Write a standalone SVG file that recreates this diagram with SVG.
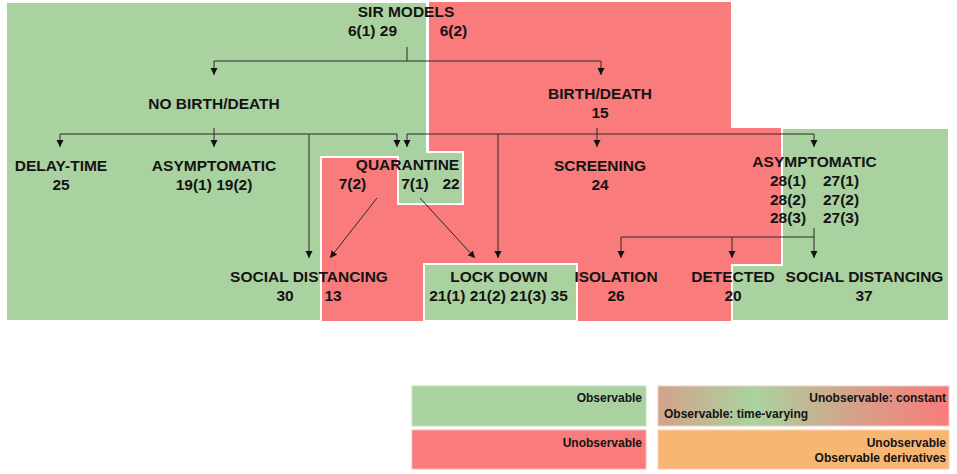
<svg xmlns="http://www.w3.org/2000/svg" width="957" height="474" viewBox="0 0 957 474">
<style>
.g{fill:#aad2a0;stroke:#fff;stroke-width:2}
.r{fill:#f97b7b}
.t{font-family:"Liberation Sans",Arial,sans-serif;font-weight:bold;font-size:15.5px;fill:#141414;text-anchor:middle}
.l{font-family:"Liberation Sans",Arial,sans-serif;font-weight:bold;font-size:12px;fill:#141414;text-anchor:end}
.c{fill:none;stroke:#2a2a2a;stroke-width:1}
.a{marker-end:url(#arr)}
</style>
<defs>
<marker id="arr" markerUnits="userSpaceOnUse" markerWidth="8" markerHeight="8" refX="7" refY="3.5" orient="auto">
<path d="M0,0 L7,3.5 L0,7 z" fill="#111"/>
</marker>
<linearGradient id="grad" x1="0" y1="0" x2="1" y2="0">
<stop offset="0" stop-color="#d3a28a"/>
<stop offset="0.33" stop-color="#a9d3a0"/>
<stop offset="0.68" stop-color="#d6a08a"/>
<stop offset="1" stop-color="#f97b7b"/>
</linearGradient>
</defs>
<g id="background">
<polygon class="r" points="429,2 731,2 731,128 782,128 782,321 321,321 321,157 429,157"/>
<polygon class="g" points="6,2 427,2 427,152 463,152 463,204 398,204 398,157 321,157 321,321 6,321"/>
<rect class="g" x="424" y="264" width="153" height="57"/>
<polygon class="g" points="782,128 949,128 949,321 732,321 732,265 782,265"/>
</g>
<g id="connectors">
<path class="c" d="M407,47 V61 M214,61 H601"/>
<path class="c a" d="M214,61 V75"/>
<path class="c a" d="M601,61 V75"/>
<path class="c" d="M214,128 V134 M60,134 H397"/>
<path class="c a" d="M60,134 V147"/>
<path class="c a" d="M214,134 V147"/>
<path class="c a" d="M397,134 V147"/>
<path class="c a" d="M309,134 V258"/>
<path class="c" d="M597,128 V134 M407,134 H814"/>
<path class="c a" d="M407,134 V147"/>
<path class="c a" d="M597,134 V147"/>
<path class="c a" d="M814,134 V147"/>
<path class="c a" d="M498,134 V258"/>
<path class="c a" d="M377,198 L330,258"/>
<path class="c a" d="M420,198 L475,258"/>
<path class="c" d="M621,237 H814"/>
<path class="c a" d="M814,228 V258"/>
<path class="c a" d="M621,237 V258"/>
<path class="c a" d="M732,237 V258"/>
</g>
<g id="sir-models">
<text class="t" x="406" y="17">SIR MODELS</text>
<text class="t" x="372.5" y="36">6(1) 29</text>
<text class="t" x="453.5" y="36">6(2)</text>
</g>
<g id="no-birth-death">
<text class="t" x="214" y="108.5">NO BIRTH/DEATH</text>
</g>
<g id="birth-death">
<text class="t" x="600" y="98.5">BIRTH/DEATH</text>
<text class="t" x="600" y="118">15</text>
</g>
<g id="delay-time">
<text class="t" x="61" y="170.5">DELAY-TIME</text>
<text class="t" x="61" y="190">25</text>
</g>
<g id="asymptomatic-left">
<text class="t" x="214" y="170.5">ASYMPTOMATIC</text>
<text class="t" x="214" y="190">19(1) 19(2)</text>
</g>
<g id="quarantine">
<text class="t" x="407.5" y="170">QUARANTINE</text>
<text class="t" x="352.5" y="188.5">7(2)</text>
<text class="t" x="415" y="188.5">7(1)</text>
<text class="t" x="451" y="188.5">22</text>
</g>
<g id="screening">
<text class="t" x="600" y="170.5">SCREENING</text>
<text class="t" x="600" y="190">24</text>
</g>
<g id="asymptomatic-right">
<text class="t" x="814.5" y="166.5">ASYMPTOMATIC</text>
<text class="t" x="788" y="185.5">28(1)</text>
<text class="t" x="841" y="185.5">27(1)</text>
<text class="t" x="788" y="204.5">28(2)</text>
<text class="t" x="841" y="204.5">27(2)</text>
<text class="t" x="788" y="223.3">28(3)</text>
<text class="t" x="841" y="223.3">27(3)</text>
</g>
<g id="social-distancing-left">
<text class="t" x="309" y="281.5">SOCIAL DISTANCING</text>
<text class="t" x="285" y="300.5">30</text>
<text class="t" x="333" y="300.5">13</text>
</g>
<g id="lock-down">
<text class="t" x="499" y="281.5">LOCK DOWN</text>
<text class="t" x="498.5" y="300.5">21(1) 21(2) 21(3) 35</text>
</g>
<g id="isolation">
<text class="t" x="616" y="281.5">ISOLATION</text>
<text class="t" x="616" y="300.5">26</text>
</g>
<g id="detected">
<text class="t" x="733" y="281.5">DETECTED</text>
<text class="t" x="733" y="300.5">20</text>
</g>
<g id="social-distancing-right">
<text class="t" x="864.5" y="281.5">SOCIAL DISTANCING</text>
<text class="t" x="864" y="300.5">37</text>
</g>
<g id="legend">
<rect x="412" y="386" width="234" height="40" fill="#aad2a0" stroke="#c4e2bc" stroke-width="1"/>
<text class="l" x="642" y="402">Observable</text>
<rect x="658" y="386" width="291" height="40" fill="url(#grad)" stroke="#f0d0c8" stroke-width="1"/>
<text class="l" x="946" y="402">Unobservable: constant</text>
<text class="l" x="664" y="418" style="text-anchor:start">Observable: time-varying</text>
<rect x="412" y="430" width="234" height="39" fill="#f97b7b" stroke="#fbb4b4" stroke-width="1"/>
<text class="l" x="642" y="447">Unobservable</text>
<rect x="658" y="430" width="291" height="39" fill="#f8b673" stroke="#fbd3a8" stroke-width="1"/>
<text class="l" x="946" y="447">Unobservable</text>
<text class="l" x="946" y="462">Observable derivatives</text>
</g>
</svg>
